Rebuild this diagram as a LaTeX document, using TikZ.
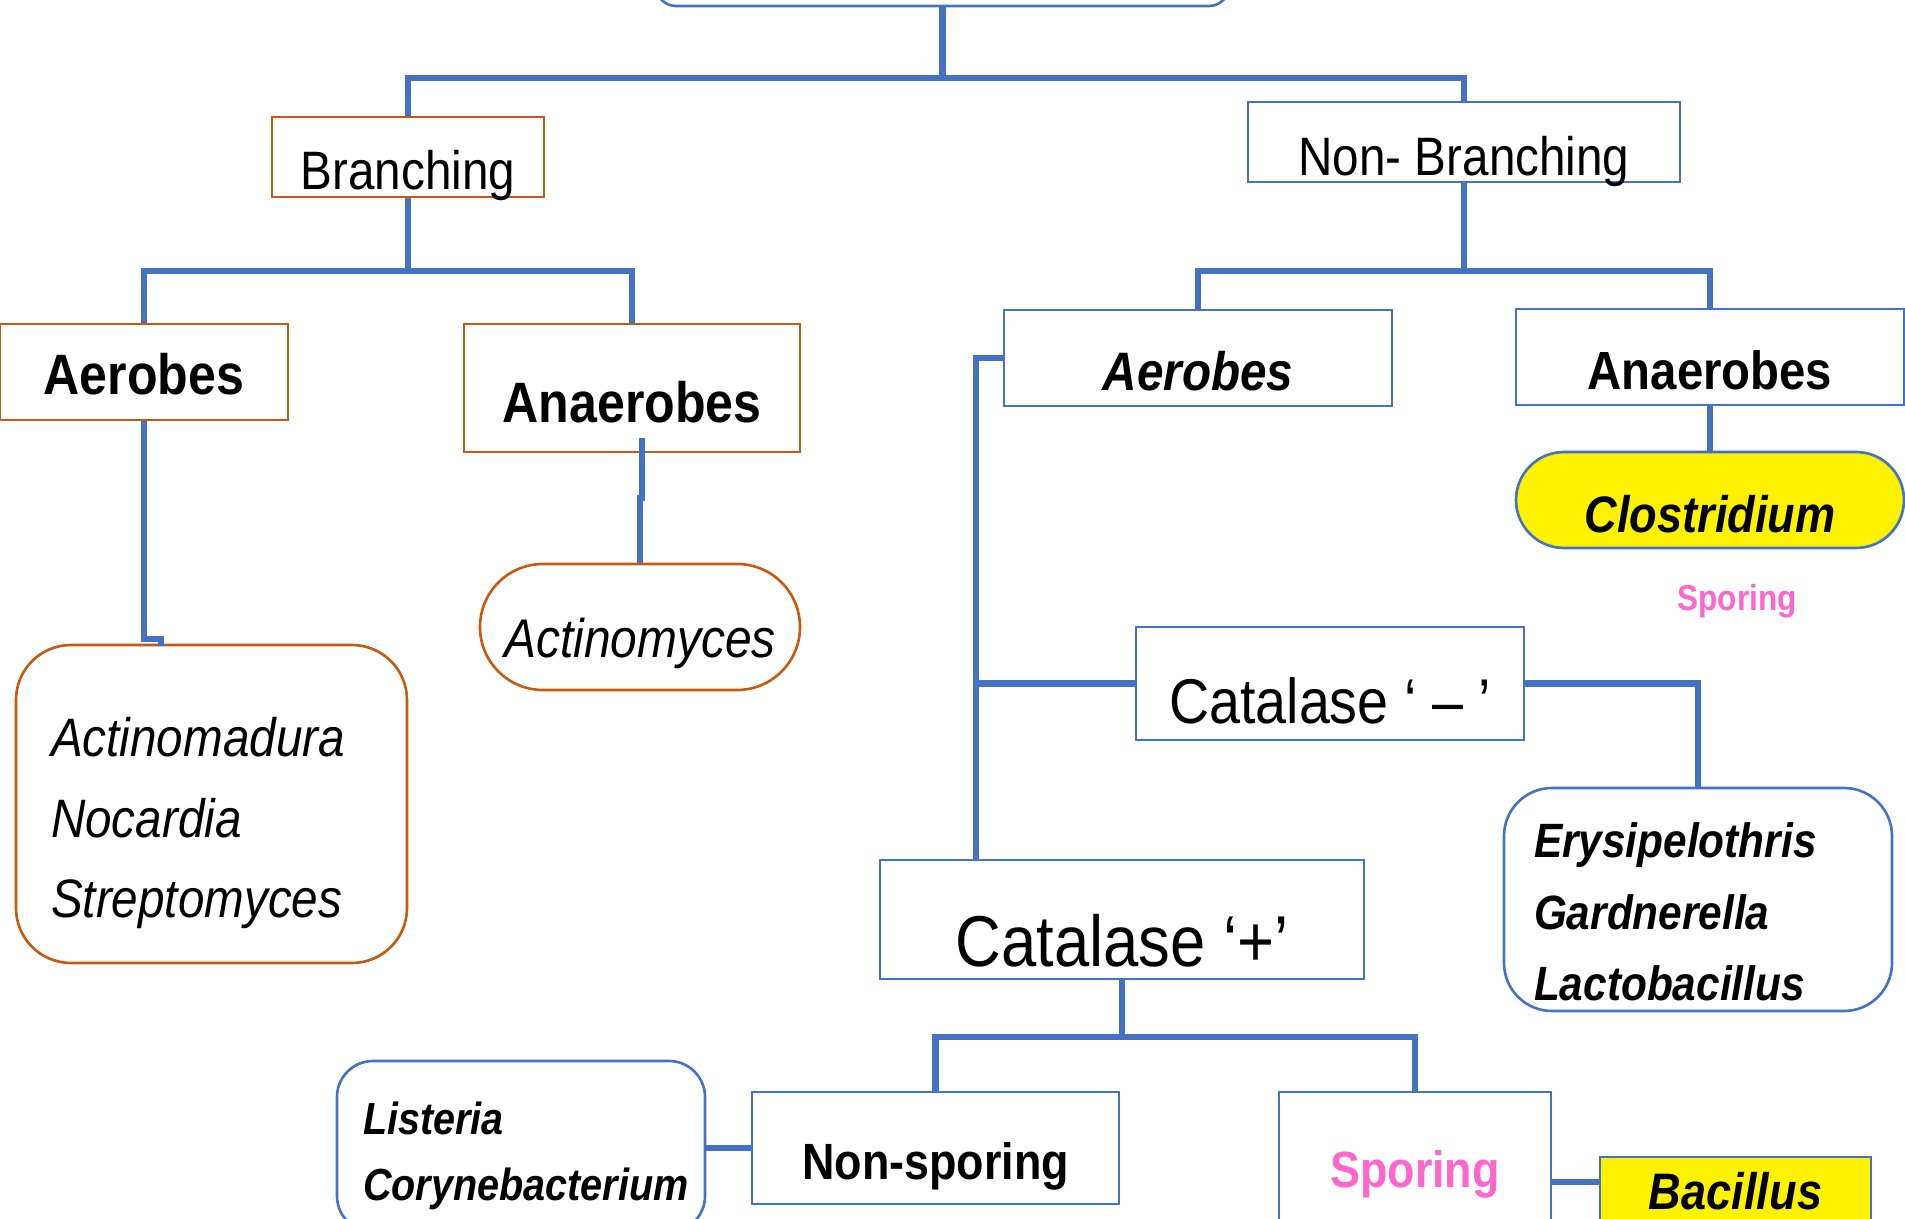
\documentclass[tikz,border=0pt]{standalone}
\usepackage{fontspec}
\setmainfont{Liberation Sans}[FakeStretch=0.88]
\definecolor{lineblue}{RGB}{68,114,196}
\definecolor{boxorange}{RGB}{197,90,17}
\definecolor{sporepink}{RGB}{255,102,204}
\tikzset{
    link/.style={draw=lineblue, line width=1.75pt},
    obox/.style={draw=boxorange, line width=0.75pt, inner sep=0pt},
    bbox/.style={draw=lineblue, line width=0.75pt, inner sep=0pt},
    dropby/.style={text height=#1, text depth=0pt},
    liftby/.style={text height=0pt, text depth=#1}
}
\begin{document}
\begin{tikzpicture}
    \useasboundingbox (0,0) rectangle (19.05,-12.19);
    \clip (0,0) rectangle (19.05,-12.19);
    \node[bbox, rounded corners=0.2cm, minimum width=5.73cm, minimum height=1cm] (root) at (9.425,0.44) {};
    \node[obox, minimum width=2.72cm, minimum height=0.8cm, dropby=0.66cm, font=\fontsize{15.4}{18}\selectfont] (branch) at (4.08,-1.57) {Branching};
    \node[bbox, minimum width=4.32cm, minimum height=0.8cm, dropby=0.68cm, font=\fontsize{15.4}{18}\selectfont] (nonbr) at (14.64,-1.42) {Non- Branching};
    \node[obox, minimum width=2.88cm, minimum height=0.96cm, dropby=0.46cm, font=\fontsize{16.2}{19}\selectfont\bfseries] (aerL) at (1.44,-3.72) {Aerobes};
    \node[obox, minimum width=3.36cm, minimum height=1.28cm, dropby=0.70cm, font=\fontsize{16.2}{19}\selectfont\bfseries] (anaL) at (6.32,-3.88) {Anaerobes};
    \node[bbox, minimum width=3.88cm, minimum height=0.96cm, dropby=0.66cm, font=\fontsize{15.4}{18}\selectfont\bfseries\itshape] (aerR) at (11.98,-3.58) {Aerobes};
    \node[bbox, minimum width=3.88cm, minimum height=0.96cm, dropby=0.66cm, font=\fontsize{15.3}{18}\selectfont\bfseries] (anaR) at (17.10,-3.57) {Anaerobes};
    \node[bbox, fill=yellow, rounded corners=0.48cm, minimum width=3.88cm, minimum height=0.96cm, dropby=0.66cm, font=\fontsize{14.6}{17}\selectfont\bfseries\itshape] (clos) at (17.10,-5.00) {Clostridium};
    \node[anchor=base, text=sporepink, font=\fontsize{10.2}{12}\selectfont\bfseries] (closspore) at (17.37,-6.11) {Sporing};
    \node[obox, rounded corners=0.63cm, minimum width=3.20cm, minimum height=1.26cm, dropby=0.62cm, font=\fontsize{15.5}{18}\selectfont\itshape] (actino) at (6.40,-6.27) {Actinomyces};
    \node[obox, rounded corners=0.55cm, minimum width=3.91cm, minimum height=3.18cm, liftby=0.94cm] (grpA) at (2.115,-8.04)
        {\parbox[t]{3.21cm}{\fontsize{15.4}{22.9}\selectfont\itshape Actinomadura\\Nocardia\\Streptomyces}};
    \node[bbox, minimum width=3.88cm, minimum height=1.13cm, dropby=0.81cm, font=\fontsize{18}{21}\selectfont] (catM) at (13.30,-6.835) {Catalase ‘ – ’};
    \node[bbox, minimum width=4.84cm, minimum height=1.19cm, dropby=0.93cm, font=\fontsize{20.5}{24}\selectfont] (catP) at (11.22,-9.195) {Catalase ‘+’};
    \node[bbox, rounded corners=0.48cm, minimum width=3.88cm, minimum height=2.23cm, liftby=0.83cm] (grpE) at (16.98,-8.995)
        {\parbox[t]{3.28cm}{\fontsize{13.7}{20.3}\selectfont\bfseries\itshape Erysipelothris\\Gardnerella\\Lactobacillus}};
    \node[bbox, rounded corners=0.36cm, minimum width=3.68cm, minimum height=1.71cm, liftby=0.25cm] (grpL) at (5.21,-11.465)
        {\parbox[t]{3.16cm}{\fontsize{12.8}{18.8}\selectfont\bfseries\itshape Listeria\\Corynebacterium}};
    \node[bbox, minimum width=3.67cm, minimum height=1.12cm, dropby=0.62cm, font=\fontsize{14.5}{17}\selectfont\bfseries] (nonsp) at (9.355,-11.48) {Non-sporing};
    \node[bbox, minimum width=2.72cm, minimum height=1.80cm, dropby=0.10cm, text=sporepink, font=\fontsize{14.5}{17}\selectfont\bfseries] (spor) at (14.15,-11.82) {Sporing};
    \node[bbox, fill=yellow, minimum width=2.71cm, minimum height=0.83cm, dropby=0.21cm, font=\fontsize{14.6}{17}\selectfont\bfseries\itshape] (bac) at (17.355,-11.985) {Bacillus};
    \draw[link] (root.south) -- ++(0,-0.71) coordinate (topj) -| (branch.north);
    \draw[link] (topj) -| (nonbr.north);
    \draw[link] (branch.south) -- ++(0,-0.73) coordinate (brj) -| (aerL.north);
    \draw[link] (brj) -| (anaL.north);
    \draw[link] (nonbr.south) -- ++(0,-0.88) coordinate (nbj) -| (aerR.north);
    \draw[link] (nbj) -| (anaR.north);
    \draw[link] (aerL.south) -- ++(0,-2.18) -- ++(0.17,0) -- ++(0,-0.07);
    \draw[link] (actino.north) -- ++(0,0.65) -- ++(0.02,0) -- ++(0,0.6);
    \draw[link] (anaR.south) -- (clos.north);
    \draw[link] (aerR.west) -- ++(-0.27,0) coordinate (aj) -- (aj |- catP.north);
    \draw[link] (catM.west) -- (catM.west -| aj);
    \draw[link] (catM.east) -| (grpE.north);
    \draw[link] (catP.south) -- ++(0,-0.57) coordinate (cpj) -| (nonsp.north);
    \draw[link] (cpj) -| (spor.north);
    \draw[link] (nonsp.west) -- (nonsp.west -| grpL.east);
    \draw[link] (spor.east) -- (spor.east -| bac.west);
\end{tikzpicture}
\end{document}
